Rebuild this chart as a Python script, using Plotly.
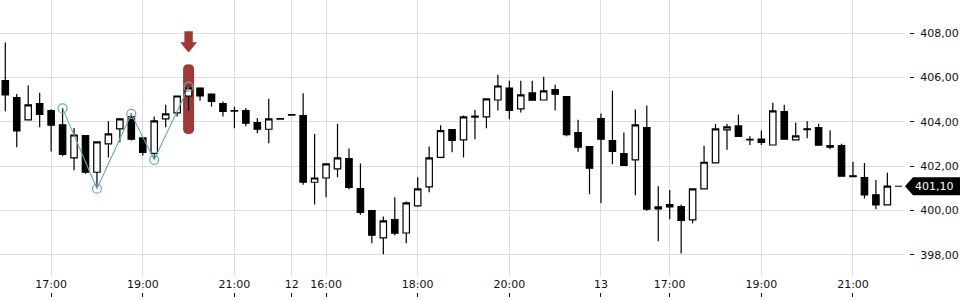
import plotly.graph_objects as go

# ---------------- data (15-minute candles) ----------------
opens = [405.86, 405.10, 404.09, 404.83, 404.51, 403.87, 402.38, 403.38, 401.73, 403.01,
         403.69, 404.24, 403.28, 402.58, 404.14, 404.41, 405.17, 405.53, 405.26, 404.83,
         404.51, 404.51, 403.97, 403.67, 404.15, 404.33, 404.29, 401.28, 401.47, 401.88,
         402.35, 400.99, 400.00, 398.77, 399.59, 398.99, 400.21, 401.07, 402.40, 403.65,
         403.19, 404.22, 404.23, 404.99, 405.53, 404.59, 405.31, 404.99, 405.46, 405.14,
         403.52, 402.89, 404.15, 403.16, 402.57, 402.29, 403.74, 400.08, 400.17, 400.18,
         399.58, 400.98, 402.15, 403.64, 403.82, 403.21, 403.23, 402.96, 404.47, 403.19,
         403.69, 403.74, 402.93, 402.93, 401.57, 401.49, 400.71, 400.26]
highs = [407.58, 405.26, 405.64, 405.32, 404.57, 404.63, 403.73, 403.41, 403.10, 404.03,
         404.18, 404.39, 403.28, 404.24, 404.78, 405.17, 405.64, 405.56, 405.26, 404.92,
         404.69, 404.63, 404.18, 405.05, 404.15, 404.33, 405.29, 403.46, 402.11, 403.92,
         402.80, 402.12, 400.00, 399.73, 400.60, 400.41, 401.50, 402.89, 403.85, 403.65,
         404.29, 404.54, 405.04, 406.13, 405.86, 405.86, 405.86, 406.04, 405.68, 405.17,
         404.10, 402.89, 404.38, 405.41, 403.52, 404.56, 404.74, 401.10, 400.93, 400.27,
         400.98, 402.93, 403.91, 403.91, 404.33, 403.35, 403.61, 404.87, 404.78, 403.97,
         404.03, 403.92, 403.62, 403.01, 402.20, 402.15, 401.38, 401.71]
lows = [404.48, 402.86, 404.09, 403.76, 402.67, 402.45, 401.82, 401.66, 401.02, 402.39,
        403.08, 403.16, 402.49, 402.33, 403.76, 404.25, 404.51, 404.96, 404.70, 404.24,
        403.71, 403.80, 403.49, 403.04, 404.13, 404.31, 401.17, 400.28, 400.60, 401.50,
        400.96, 399.81, 398.53, 398.03, 398.89, 398.53, 400.17, 400.83, 402.36, 402.63,
        402.40, 403.22, 403.71, 404.52, 404.12, 404.43, 404.98, 404.99, 404.51, 403.35,
        402.66, 400.74, 400.33, 402.09, 402.04, 400.69, 399.99, 398.62, 399.61, 398.07,
        399.43, 400.98, 402.15, 402.74, 403.35, 402.96, 402.96, 402.96, 403.22, 403.19,
        403.26, 402.92, 402.77, 401.55, 401.53, 400.55, 400.06, 400.26]
closes = [405.22, 403.59, 404.77, 404.34, 403.85, 402.54, 403.41, 401.73, 403.10, 403.46,
          404.14, 403.22, 402.63, 404.05, 404.36, 405.17, 405.53, 405.17, 404.93, 404.48,
          404.49, 403.94, 403.67, 404.14, 404.13, 404.31, 401.28, 401.47, 402.11, 402.38,
          401.05, 399.92, 398.89, 399.54, 398.98, 400.35, 400.98, 402.38, 403.61, 403.17,
          404.23, 404.26, 405.04, 405.62, 404.52, 405.22, 404.98, 405.40, 405.25, 403.43,
          402.86, 401.91, 403.22, 402.67, 402.04, 403.87, 400.06, 400.17, 400.27, 399.56,
          400.98, 402.18, 403.69, 403.78, 403.35, 403.19, 403.08, 404.50, 403.22, 403.37,
          403.65, 402.95, 402.86, 401.55, 401.53, 400.71, 400.26, 401.10]

# x tick positions (candle index) and labels
tick_idx = [4, 12, 20, 25, 28, 36, 44, 52, 58, 66, 74]
tick_text = ["17:00", "19:00", "21:00", "12", "16:00", "18:00", "20:00", "13", "17:00", "19:00", "21:00"]

# y ticks
y_ticks = [398, 400, 402, 404, 406, 408]

# zig-zag pattern pivots
pattern_idx = [5, 8, 11, 13, 16]
pattern_val = [404.61, 400.99, 404.36, 402.29, 405.59]

# highlighted candle + its band
signal_idx = 16
signal_band = [403.46, 406.60]

x = list(range(len(opens)))

RED = "#9d3b33"
TEAL = "#6aa9b6"

fig = go.Figure()

fig.add_trace(go.Candlestick(
    x=x, open=opens, high=highs, low=lows, close=closes,
    increasing=dict(fillcolor="white", line=dict(color="black", width=1.2)),
    decreasing=dict(fillcolor="black", line=dict(color="black", width=1.2)),
    whiskerwidth=0, hoverinfo="skip", showlegend=False,
))

fig.add_trace(go.Scatter(
    x=pattern_idx, y=pattern_val, mode="lines+markers",
    line=dict(color=TEAL, width=1.1),
    marker=dict(symbol="circle-open", size=9, color=TEAL, line=dict(width=1.2, color=TEAL)),
    hoverinfo="skip", showlegend=False,
))

shapes = []
# highlight band (rounded)
mid = (signal_band[0] + signal_band[1]) / 2
shapes.append(dict(
    type="path", layer="between",
    xref="x", xsizemode="pixel", xanchor=signal_idx,
    yref="y", ysizemode="pixel", yanchor=mid,
    path="M -5.5,-29.8 L -5.5,29.8 Q -5.5,34.8 0,34.8 Q 5.5,34.8 5.5,29.8 "
         "L 5.5,-29.8 Q 5.5,-34.8 0,-34.8 Q -5.5,-34.8 -5.5,-29.8 Z",
    fillcolor=RED, line=dict(width=0),
))
# down arrow above band
shapes.append(dict(
    type="path", layer="above",
    xref="x", xsizemode="pixel", xanchor=signal_idx,
    yref="y", ysizemode="pixel", yanchor=signal_band[1],
    path="M -4.2,33 L 4.2,33 L 4.2,22 L 8.5,22 L 0,11.7 L -8.5,22 L -4.2,22 Z",
    fillcolor=RED, line=dict(width=0),
))
# last price dash and tag
last = closes[-1]
shapes.append(dict(
    type="line", xref="paper", xsizemode="pixel", xanchor=1, x0=-14, x1=-7,
    yref="y", y0=last, y1=last, line=dict(color="black", width=1),
))
shapes.append(dict(
    type="path", xref="paper", xsizemode="pixel", xanchor=1,
    yref="y", ysizemode="pixel", yanchor=last,
    path="M -4,0 L 4,-9 L 51,-9 L 51,9 L 4,9 Z",
    fillcolor="black", line=dict(width=0),
))

fig.update_layout(
    width=960, height=300,
    margin=dict(l=0, r=51, t=0, b=3),
    paper_bgcolor="white", plot_bgcolor="white",
    separators=",.",
    font=dict(family="DejaVu Sans", size=11, color="#111111"),
    showlegend=False,
    boxgap=0.2,
    shapes=shapes,
    annotations=[dict(
        x=1, xref="paper", xshift=25, xanchor="center",
        y=last, yref="y", yanchor="middle",
        text=f"{last:.2f}".replace(".", ","), showarrow=False,
        font=dict(color="white", size=11, family="DejaVu Sans"),
    )],
    xaxis=dict(
        domain=[0, 905 / 909], range=[-0.463, 78.54],
        anchor="free", position=0, side="top",
        tickmode="array", tickvals=tick_idx, ticktext=tick_text,
        showgrid=True, gridcolor="#dddddd", gridwidth=1,
        ticks="outside", ticklen=4, tickcolor="#111111", tickwidth=1,
        showline=False, zeroline=False,
        rangeslider=dict(visible=False), fixedrange=True,
        ticklabelstandoff=1,
    ),
    yaxis=dict(
        domain=[21 / 297, 1],
        anchor="free", position=1, side="right",
        range=[397.05, 409.50],
        tickmode="array", tickvals=y_ticks, tickformat=".2f",
        showgrid=True, gridcolor="#dddddd", gridwidth=1,
        ticks="outside", ticklen=4, tickcolor="#111111", tickwidth=1,
        showline=False, zeroline=False, fixedrange=True,
        ticklabelstandoff=4,
    ),
)

fig.write_html("out.html")
